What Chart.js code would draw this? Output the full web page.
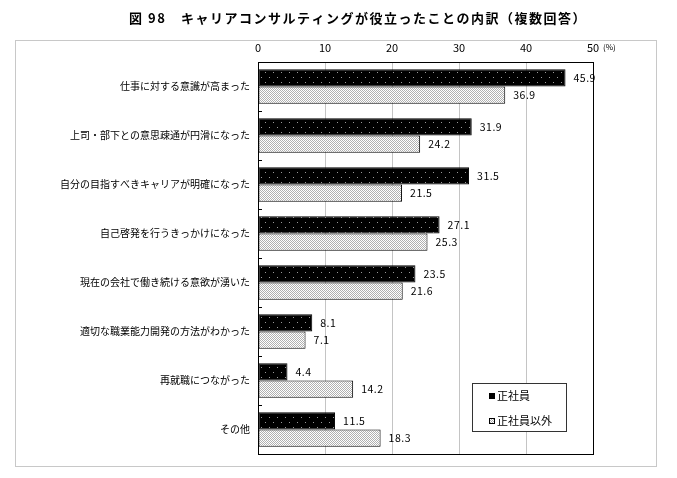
<!DOCTYPE html>
<html>
<head>
<meta charset="utf-8">
<script src="https://cdn.jsdelivr.net/npm/chart.js@4/dist/chart.umd.min.js"></script>
<style>
body { margin: 0; background: #fff; }
#wrap { width: 677px; height: 478px; }
</style>
</head>
<body>
<div id="wrap"><canvas id="chart" width="677" height="478"></canvas></div>
<script>
var titleText = '図 98　キャリアコンサルティングが役立ったことの内訳（複数回答）';
var categories = [
	'仕事に対する意識が高まった',
	'上司・部下との意思疎通が円滑になった',
	'自分の目指すべきキャリアが明確になった',
	'自己啓発を行うきっかけになった',
	'現在の会社で働き続ける意欲が湧いた',
	'適切な職業能力開発の方法がわかった',
	'再就職につながった',
	'その他'
];
var seriesNames = ['正社員', '正社員以外'];
var regular = [45.9, 31.9, 31.5, 27.1, 23.5, 8.1, 4.4, 11.5];
var nonRegular = [36.9, 24.2, 21.5, 25.3, 21.6, 7.1, 14.2, 18.3];
var xTicks = [0, 10, 20, 30, 40, 50];

var jpFont = '"Noto Sans CJK JP", "Noto Sans", sans-serif';

// 黒地に白い点の網掛け
function darkPattern() {
	var c = document.createElement('canvas');
	c.width = 8; c.height = 10;
	var g = c.getContext('2d');
	g.fillStyle = '#000';
	g.fillRect(0, 0, 8, 10);
	g.fillStyle = '#9a9a9a';
	g.fillRect(1, 2, 1, 1);
	g.fillRect(5, 7, 1, 1);
	return g.createPattern(c, 'repeat');
}

// 薄いグレーの網掛け
function lightPattern() {
	var c = document.createElement('canvas');
	c.width = 2; c.height = 2;
	var g = c.getContext('2d');
	g.fillStyle = '#fff';
	g.fillRect(0, 0, 2, 2);
	g.fillStyle = '#b0b0b0';
	g.fillRect(0, 0, 1, 1);
	g.fillRect(1, 1, 1, 1);
	return g.createPattern(c, 'repeat');
}

var darkFill = darkPattern();
var lightFill = lightPattern();

var decorPlugin = {
	id: 'decor',
	beforeDraw: function(chart) {
		var ctx = chart.ctx;
		ctx.save();
		ctx.fillStyle = '#fff';
		ctx.fillRect(0, 0, chart.width, chart.height);
		// 外枠
		ctx.strokeStyle = '#c8c8c8';
		ctx.lineWidth = 1;
		ctx.strokeRect(15.5, 40.5, 641, 426);
		// タイトル
		ctx.fillStyle = '#000';
		ctx.font = 'bold 13px ' + jpFont;
		ctx.letterSpacing = '1.5px';
		ctx.textAlign = 'center';
		ctx.textBaseline = 'middle';
		ctx.fillText(titleText, 358, 18);
		ctx.letterSpacing = '0px';
		ctx.restore();
	},
	afterDatasetsDraw: function(chart) {
		var ctx = chart.ctx;
		var area = chart.chartArea;
		ctx.save();
		// プロット枠
		ctx.strokeStyle = '#000';
		ctx.lineWidth = 1;
		ctx.strokeRect(Math.round(area.left) + 0.5, Math.round(area.top) + 0.5,
			Math.round(area.right - area.left), Math.round(area.bottom - area.top));
		// 項目の区切り目盛り
		var yScale = chart.scales.y;
		for (var i = 0; i < categories.length - 1; i++) {
			var yy = Math.round((yScale.getPixelForTick(i) + yScale.getPixelForTick(i + 1)) / 2) + 0.5;
			ctx.beginPath();
			ctx.moveTo(area.left, yy);
			ctx.lineTo(area.left + 4, yy);
			ctx.stroke();
		}
		// 数値ラベル
		ctx.fillStyle = '#000';
		ctx.font = '10.5px ' + jpFont;
		ctx.letterSpacing = '0.5px';
		ctx.textAlign = 'left';
		ctx.textBaseline = 'middle';
		chart.data.datasets.forEach(function(dataset, d) {
			var meta = chart.getDatasetMeta(d);
			meta.data.forEach(function(bar, index) {
				ctx.fillText(dataset.data[index].toFixed(1), bar.x + 8, bar.y);
			});
		});
		ctx.letterSpacing = '0px';
		// 単位
		ctx.font = '8px ' + jpFont;
		ctx.fillText('(%)', 603, 47);
		// 凡例
		ctx.fillStyle = '#fff';
		ctx.fillRect(472, 383, 94, 48);
		ctx.strokeStyle = '#333';
		ctx.strokeRect(472.5, 383.5, 94, 48);
		ctx.fillStyle = '#000';
		ctx.fillRect(489, 393, 6, 6);
		ctx.fillStyle = lightFill;
		ctx.fillRect(489, 418, 6, 6);
		ctx.strokeStyle = '#000';
		ctx.strokeRect(489.5, 418.5, 5, 5);
		ctx.fillStyle = '#000';
		ctx.font = '11px ' + jpFont;
		ctx.fillText(seriesNames[0], 497, 396);
		ctx.fillText(seriesNames[1], 497, 421);
		ctx.restore();
	}
};

var ctx = document.getElementById('chart');
var chart = new Chart(ctx, {
	type: 'bar',
	data: {
		labels: categories,
		datasets: [{
			label: seriesNames[0],
			data: regular,
			backgroundColor: darkFill,
			borderColor: '#000',
			borderWidth: 1,
			borderSkipped: false,
			categoryPercentage: 0.7,
			barPercentage: 1.0
		}, {
			label: seriesNames[1],
			data: nonRegular,
			backgroundColor: lightFill,
			borderColor: '#000',
			borderWidth: 1,
			borderSkipped: false,
			categoryPercentage: 0.7,
			barPercentage: 1.0
		}]
	},
	options: {
		indexAxis: 'y',
		responsive: false,
		animation: false,
		devicePixelRatio: 1,
		layout: { padding: { left: 0, top: 0, right: 84, bottom: 24 } },
		scales: {
			x: {
				position: 'top',
				min: 0,
				max: 50,
				afterBuildTicks: function(scale) {
					scale.ticks = xTicks.map(function(v) { return { value: v }; });
				},
				afterFit: function(scale) { scale.height = 62; },
				grid: { color: '#c4c4c4', drawTicks: false },
				border: { display: true, color: '#000' },
				ticks: {
					color: '#000',
					padding: 8,
					font: { family: jpFont, size: 11 }
				}
			},
			y: {
				afterFit: function(scale) { scale.width = 258; },
				grid: { display: false, drawTicks: false },
				border: { display: true, color: '#000' },
				ticks: {
					color: '#000',
					padding: 8,
					font: { family: jpFont, size: 10 }
				}
			}
		},
		plugins: {
			legend: { display: false },
			title: { display: false },
			tooltip: { enabled: false }
		}
	},
	plugins: [decorPlugin]
});
</script>
</body>
</html>
